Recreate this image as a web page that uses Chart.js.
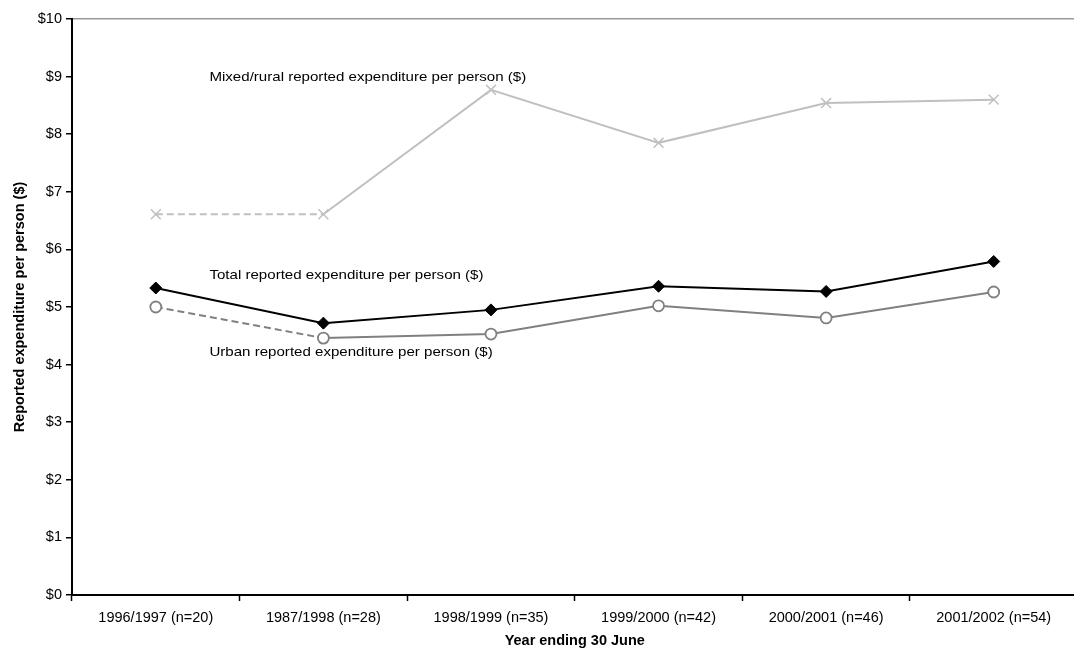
<!DOCTYPE html>
<html>
<head>
<meta charset="utf-8">
<script src="https://cdn.jsdelivr.net/npm/chart.js@4"></script>
<style>
    html, body { margin: 0; padding: 0; background: #fff; overflow: hidden; }
    #wrap { width: 1086px; height: 650px; }
</style>
</head>
<body>
<div id="wrap"><canvas id="chartSpend"></canvas></div>
<script>
const years = [
    "1996/1997 (n=20)",
    "1987/1998 (n=28)",
    "1998/1999 (n=35)",
    "1999/2000 (n=42)",
    "2000/2001 (n=46)",
    "2001/2002 (n=54)"
];

const mixedRural = [6.61, 6.61, 8.77, 7.85, 8.54, 8.60];
const totalSpend = [5.33, 4.72, 4.95, 5.36, 5.27, 5.79];
const urbanSpend = [5.00, 4.46, 4.53, 5.02, 4.81, 5.26];

const seriesNames = [
    "Mixed/rural reported expenditure per person ($)",
    "Total reported expenditure per person ($)",
    "Urban reported expenditure per person ($)"
];

// where the in-chart labels sit, in data units
const labelIndex = [0.32, 0.32, 0.32];
const labelValue = [8.99, 5.54, 4.22];

const FONT = "'Liberation Sans', Arial, sans-serif";

function firstSegmentDashed(ctx) {
    return ctx.p0DataIndex === 0 ? [7, 4] : undefined;
}

const seriesLabels = {
    id: "seriesLabels",
    afterDatasetsDraw(chart) {
        const ctx = chart.ctx;
        const x = chart.scales.x;
        const y = chart.scales.y;
        ctx.save();
        ctx.font = "13px " + FONT;
        ctx.fillStyle = "#000";
        ctx.textBaseline = "middle";
        ctx.textAlign = "left";
        seriesNames.forEach((name, i) => {
            const px = x.getPixelForValue(labelIndex[i]);
            const py = y.getPixelForValue(labelValue[i]);
            // the original text is a little wider than it is tall
            ctx.save();
            ctx.translate(px, py);
            ctx.scale(1.16, 1);
            ctx.fillText(name, 0, 0);
            ctx.restore();
        });
        ctx.restore();
    }
};

Chart.defaults.font.family = FONT;
Chart.defaults.color = "#000";

new Chart(
    document.getElementById("chartSpend"),
    {
        type: "line",
        data: {
            labels: years,
            datasets: [
                {
                    label: seriesNames[0],
                    data: mixedRural,
                    borderColor: "#c0c0c0",
                    backgroundColor: "#c0c0c0",
                    borderWidth: 2,
                    pointStyle: "crossRot",
                    pointRadius: 7,
                    pointBorderWidth: 1.5,
                    segment: { borderDash: firstSegmentDashed }
                },
                {
                    label: seriesNames[1],
                    data: totalSpend,
                    borderColor: "#000",
                    backgroundColor: "#000",
                    borderWidth: 2,
                    pointStyle: "rectRot",
                    pointRadius: 6,
                    pointBorderWidth: 1
                },
                {
                    label: seriesNames[2],
                    data: urbanSpend,
                    borderColor: "#808080",
                    backgroundColor: "#fff",
                    borderWidth: 2,
                    pointStyle: "circle",
                    pointRadius: 5.5,
                    pointBorderWidth: 1.8,
                    segment: { borderDash: firstSegmentDashed }
                }
            ]
        },
        options: {
            responsive: true,
            maintainAspectRatio: false,
            animation: false,
            layout: { padding: { top: 19, right: 2, left: 0, bottom: 0 } },
            plugins: {
                legend: { display: false },
                tooltip: { enabled: false }
            },
            scales: {
                x: {
                    type: "category",
                    offset: true,
                    border: { color: "#000", width: 2 },
                    grid: {
                        offset: true,
                        drawOnChartArea: false,
                        tickLength: 6,
                        tickColor: "#000",
                        tickWidth: 1.5
                    },
                    ticks: {
                        font: { size: 14.5 },
                        maxRotation: 0,
                        padding: 8
                    },
                    title: {
                        display: true,
                        text: "Year ending 30 June",
                        font: { size: 14.5, weight: "bold" },
                        padding: { top: 0, bottom: 0 }
                    },
                    afterFit(scale) { scale.height = 55; }
                },
                y: {
                    min: 0,
                    max: 10,
                    border: { color: "#000", width: 2 },
                    grid: {
                        color: c => c.tick && c.tick.value === 10 ? "#9a9a9a" : "rgba(0,0,0,0)",
                        lineWidth: 1.5,
                        tickLength: 6,
                        tickColor: "#000",
                        tickWidth: 1.5
                    },
                    ticks: {
                        stepSize: 1,
                        font: { size: 14.5 },
                        padding: 4,
                        callback: v => "$" + v
                    },
                    title: {
                        display: true,
                        text: "Reported expenditure per person ($)",
                        font: { size: 14.5, weight: "bold" },
                        padding: { top: 11, bottom: 0 }
                    },
                    afterFit(scale) { scale.width = 72; }
                }
            }
        },
        plugins: [seriesLabels]
    }
);
</script>
</body>
</html>
